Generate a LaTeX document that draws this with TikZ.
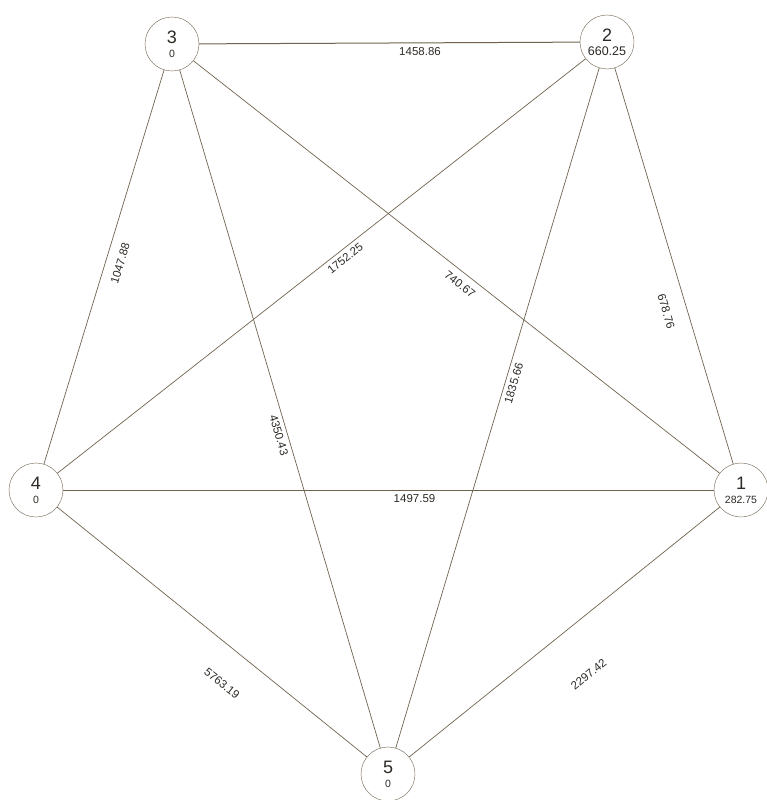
\documentclass[tikz,border=0pt]{standalone}
\usepackage{fontspec}
\setmainfont{Liberation Sans}
\usepackage{tikz}
\usetikzlibrary{arrows.meta}
\definecolor{edgeCol}{RGB}{112, 98, 80}
\definecolor{textCol}{RGB}{45, 42, 38}

\begin{document}
\begin{tikzpicture}[x=1pt, y=-1pt, >=Stealth,
  vertex/.style={circle, draw=edgeCol, fill=white, minimum size=54pt, inner sep=0pt,
    align=center, text=textCol, font=\fontsize{18}{15}\selectfont},
  edge/.style={draw=edgeCol, line width=0.7pt},
  wt/.style={sloped, text=textCol, inner sep=4pt, font=\fontsize{11.5}{11.5}\selectfont}]
  \useasboundingbox (0,0) rectangle (767,800);

  % The five vertices
  \node[vertex] (v3) at (172, 44) {3\\[-1pt]\fontsize{10.5}{10.5}\selectfont 0};
  \node[vertex] (v2) at (607, 42) {2\\[-1pt]\fontsize{12.5}{12.5}\selectfont 660.25};
  \node[vertex] (v4) at (36, 490) {4\\[-1pt]\fontsize{10.5}{10.5}\selectfont 0};
  \node[vertex] (v1) at (741, 490) {1\\[-1pt]\fontsize{10.5}{10.5}\selectfont 282.75};
  \node[vertex] (v5) at (388, 774) {5\\[-1pt]\fontsize{10.5}{10.5}\selectfont 0};

  % Edges with their weights
  \draw[edge, line width=1pt] (v3) -- node[wt, below, pos=0.58] {1458.86} (v2);
  \draw[edge, line width=1pt] (v4) -- node[wt, below, pos=0.54] {1497.59} (v1);
  \draw[edge] (v4) -- node[wt, below=6pt, pos=0.52] {1047.88} (v3);
  \draw[edge] (v4) -- node[wt, below, pos=0.535] {1752.25} (v2);
  \draw[edge] (v3) -- node[wt, below=3pt, pos=0.52] {740.67} (v1);
  \draw[edge] (v2) -- node[wt, below=12pt, pos=0.6] {678.76} (v1);
  \draw[edge] (v3) -- node[wt, below, pos=0.535] {4350.43} (v5);
  \draw[edge] (v5) -- node[wt, below, pos=0.54] {1835.66} (v2);
  \draw[edge] (v4) -- node[wt, below=25pt, pos=0.6] {5763.19} (v5);
  \draw[edge] (v5) -- node[wt, below=40pt, pos=0.48] {2297.42} (v1);
\end{tikzpicture}
\end{document}
